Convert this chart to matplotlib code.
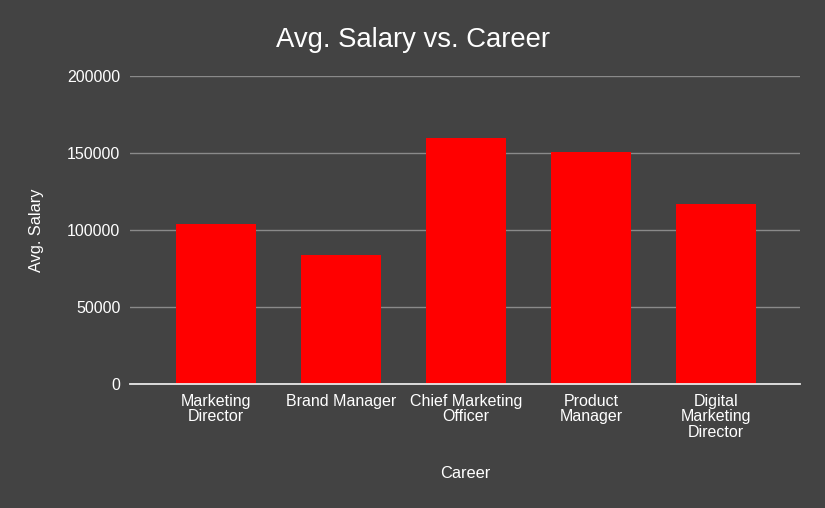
import matplotlib
matplotlib.use("Agg")
import matplotlib.pyplot as plt

careers = ["Marketing\nDirector", "Brand Manager", "Chief Marketing\nOfficer",
           "Product\nManager", "Digital\nMarketing\nDirector"]
avg_salary = [104000, 84000, 160000, 151000, 117000]
y_ticks = [0, 50000, 100000, 150000, 200000]

bg = "#434343"
plt.rcParams["font.family"] = ["Liberation Sans", "DejaVu Sans"]

fig = plt.figure(figsize=(8.25, 5.08), dpi=100, facecolor=bg)
ax = fig.add_axes([0.1576, 0.244, 0.8121, 0.606], facecolor=bg)

x = range(len(careers))
ax.bar(x, avg_salary, width=0.64, color="#ff0000", zorder=3)

ax.set_ylim(0, 200000)
ax.set_xlim(-0.684, 4.672)
ax.set_yticks(y_ticks)
ax.set_yticklabels([str(v) for v in y_ticks])
ax.set_xticks(list(x))
ax.set_xticklabels(careers, linespacing=1.05)

ax.grid(axis="y", color="#8a8a8a", linewidth=1, zorder=0)
ax.tick_params(axis="both", length=0, colors="white", labelsize=11.5)
ax.tick_params(axis="y", pad=7)
ax.tick_params(axis="x", pad=7)

for s in ["top", "right", "left"]:
    ax.spines[s].set_visible(False)
ax.spines["bottom"].set_color("#e8e8e8")
ax.spines["bottom"].set_linewidth(1.3)
ax.spines["bottom"].set_zorder(4)

ax.set_xlabel("Career", color="white", fontsize=11.8, va="center")
ax.xaxis.set_label_coords(0.5, -0.292)
ax.set_ylabel("Avg. Salary", color="white", fontsize=11.8, va="center")
ax.yaxis.set_label_coords(-0.140, 0.5)

fig.text(0.5, 0.921, "Avg. Salary vs. Career", color="white", fontsize=19.8,
         ha="center", va="center")

fig.savefig("out.png", dpi=100, facecolor=bg)
